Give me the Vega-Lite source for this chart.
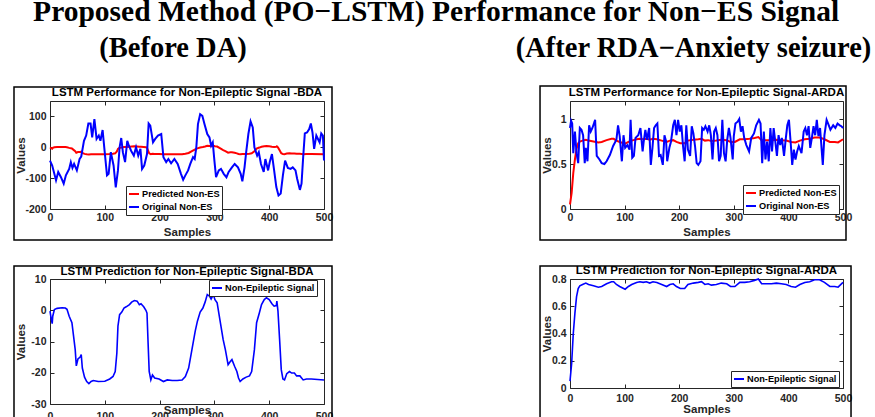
{
  "$schema": "https://vega.github.io/schema/vega-lite/v6.json",
  "background": "white",
  "padding": {"left": 12, "top": -4, "right": 0, "bottom": 0},
  "autosize": {"type": "pad"},
  "title": {"text": "Proposed Method (PO−LSTM) Performance for Non−ES Signal", "font": "Liberation Serif", "fontSize": 29.5, "fontWeight": "bold", "color": "black", "anchor": "middle", "baseline": "alphabetic", "offset": -16, "dx": -6},
  "datasets": {
    "bdaPred": [
      {"s":0,"v":-0.3},{"s":2,"v":-2.5},{"s":4,"v":-4.3},{"s":5,"v":-1.9},{"s":8,"v":0.2},{"s":13,"v":0.6},{"s":22,"v":0.8},{"s":28,"v":0.7},{"s":31,"v":0.3},{"s":35,"v":-1.9},{"s":40,"v":-4},{"s":43,"v":-8.3},{"s":46,"v":-12.6},{"s":48,"v":-17.8},{"s":51,"v":-15.6},{"s":55,"v":-15},{"s":57,"v":-14.2},{"s":59,"v":-18.5},{"s":63,"v":-21.4},{"s":67,"v":-22.8},{"s":71,"v":-23.5},{"s":75,"v":-22.8},{"s":79,"v":-22.5},{"s":88,"v":-22.8},{"s":100,"v":-22.7},{"s":109,"v":-22},{"s":115,"v":-21.2},{"s":119,"v":-19.6},{"s":122,"v":-13.7},{"s":124,"v":-5.1},{"s":127,"v":-1.4},{"s":131,"v":-0.6},{"s":135,"v":0.7},{"s":139,"v":1.1},{"s":145,"v":1.8},{"s":149,"v":2.6},{"s":154,"v":3.1},{"s":159,"v":2.9},{"s":163,"v":1.8},{"s":166,"v":2.1},{"s":171,"v":1.1},{"s":175,"v":0},{"s":177,"v":-0.9},{"s":179,"v":-10.5},{"s":181,"v":-19.6},{"s":184,"v":-22.3},{"s":187,"v":-20.7},{"s":191,"v":-21.7},{"s":199,"v":-22},{"s":207,"v":-22.8},{"s":214,"v":-22.3},{"s":223,"v":-22.5},{"s":232,"v":-22.5},{"s":241,"v":-22.3},{"s":247,"v":-21.2},{"s":253,"v":-18.5},{"s":259,"v":-12.6},{"s":265,"v":-6.7},{"s":269,"v":-3.5},{"s":274,"v":-0.6},{"s":279,"v":0.7},{"s":283,"v":2.6},{"s":287,"v":5},{"s":291,"v":4.5},{"s":294,"v":3.6},{"s":298,"v":5},{"s":301,"v":3.4},{"s":305,"v":2.4},{"s":310,"v":-3},{"s":316,"v":-9.4},{"s":320,"v":-12.6},{"s":325,"v":-17.4},{"s":329,"v":-16.4},{"s":332,"v":-15.8},{"s":337,"v":-18},{"s":341,"v":-19.6},{"s":344,"v":-21.7},{"s":347,"v":-22.8},{"s":352,"v":-22},{"s":358,"v":-21.4},{"s":364,"v":-21},{"s":368,"v":-19.6},{"s":373,"v":-12.6},{"s":377,"v":-4},{"s":382,"v":-0.9},{"s":386,"v":1.8},{"s":391,"v":3.4},{"s":395,"v":4},{"s":400,"v":3.4},{"s":405,"v":2.1},{"s":409,"v":1.3},{"s":413,"v":1.5},{"s":414,"v":2.9},{"s":416,"v":-0.3},{"s":419,"v":-9.4},{"s":422,"v":-19},{"s":425,"v":-22},{"s":428,"v":-22.3},{"s":432,"v":-20.3},{"s":437,"v":-19.6},{"s":441,"v":-20.1},{"s":446,"v":-20.1},{"s":450,"v":-21},{"s":456,"v":-21},{"s":462,"v":-22.3},{"s":468,"v":-22},{"s":477,"v":-22},{"s":500,"v":-22.3}
    ],
    "bdaOrig": [
      {"s":0,"v":-43},{"s":4,"v":-59},{"s":11,"v":-107},{"s":15,"v":-80},{"s":20,"v":-97},{"s":25,"v":-118},{"s":29,"v":-91},{"s":35,"v":-70},{"s":38,"v":-48},{"s":41,"v":-67},{"s":44,"v":-54},{"s":49,"v":-75},{"s":54,"v":-38},{"s":57,"v":-30},{"s":62,"v":21},{"s":66,"v":38},{"s":70,"v":77},{"s":74,"v":77},{"s":77,"v":32},{"s":81,"v":91},{"s":85,"v":27},{"s":89,"v":38},{"s":92,"v":21},{"s":96,"v":56},{"s":99,"v":0},{"s":104,"v":-91},{"s":107,"v":-86},{"s":111,"v":-16},{"s":116,"v":-59},{"s":120,"v":-130},{"s":124,"v":-75},{"s":127,"v":0},{"s":130,"v":30},{"s":133,"v":-16},{"s":137,"v":-48},{"s":141,"v":21},{"s":144,"v":5},{"s":148,"v":-11},{"s":153,"v":-27},{"s":157,"v":0},{"s":161,"v":-27},{"s":165,"v":-5},{"s":168,"v":-70},{"s":172,"v":-59},{"s":177,"v":-22},{"s":180,"v":77},{"s":183,"v":70},{"s":188,"v":16},{"s":192,"v":27},{"s":197,"v":38},{"s":203,"v":43},{"s":207,"v":-32},{"s":212,"v":-48},{"s":216,"v":-38},{"s":221,"v":-52},{"s":227,"v":-38},{"s":233,"v":-54},{"s":239,"v":-86},{"s":243,"v":-105},{"s":247,"v":-91},{"s":252,"v":-75},{"s":256,"v":-54},{"s":261,"v":-32},{"s":264,"v":-38},{"s":267,"v":0},{"s":270,"v":75},{"s":274,"v":107},{"s":278,"v":102},{"s":282,"v":75},{"s":287,"v":43},{"s":291,"v":32},{"s":294,"v":5},{"s":297,"v":16},{"s":300,"v":-43},{"s":303,"v":-97},{"s":308,"v":-75},{"s":312,"v":-70},{"s":317,"v":-86},{"s":322,"v":-97},{"s":326,"v":-80},{"s":332,"v":-65},{"s":337,"v":-54},{"s":343,"v":-65},{"s":348,"v":-86},{"s":351,"v":-110},{"s":355,"v":-65},{"s":358,"v":-16},{"s":362,"v":43},{"s":366,"v":84},{"s":370,"v":64},{"s":373,"v":0},{"s":378,"v":-27},{"s":381,"v":-16},{"s":385,"v":-54},{"s":390,"v":-80},{"s":393,"v":-38},{"s":398,"v":-75},{"s":401,"v":-48},{"s":405,"v":-22},{"s":409,"v":-75},{"s":413,"v":-129},{"s":417,"v":-156},{"s":421,"v":-150},{"s":425,"v":-91},{"s":429,"v":-43},{"s":434,"v":-67},{"s":439,"v":-70},{"s":443,"v":-65},{"s":448,"v":-75},{"s":451,"v":-102},{"s":456,"v":-138},{"s":459,"v":-118},{"s":462,"v":-32},{"s":465,"v":45},{"s":469,"v":48},{"s":473,"v":59},{"s":476,"v":77},{"s":479,"v":48},{"s":482,"v":-5},{"s":486,"v":38},{"s":489,"v":27},{"s":492,"v":16},{"s":495,"v":45},{"s":498,"v":38},{"s":500,"v":-43}
    ],
    "ardaPred": [
      {"s":0,"v":0.05},{"s":3,"v":0.18},{"s":6,"v":0.4},{"s":9,"v":0.55},{"s":12,"v":0.67},{"s":15,"v":0.73},{"s":18,"v":0.75},{"s":23,"v":0.76},{"s":29,"v":0.77},{"s":34,"v":0.76},{"s":43,"v":0.75},{"s":52,"v":0.74},{"s":58,"v":0.745},{"s":67,"v":0.765},{"s":76,"v":0.78},{"s":80,"v":0.78},{"s":85,"v":0.76},{"s":91,"v":0.745},{"s":101,"v":0.725},{"s":107,"v":0.745},{"s":113,"v":0.76},{"s":122,"v":0.775},{"s":128,"v":0.78},{"s":134,"v":0.775},{"s":140,"v":0.78},{"s":146,"v":0.77},{"s":152,"v":0.78},{"s":159,"v":0.775},{"s":168,"v":0.76},{"s":177,"v":0.745},{"s":183,"v":0.76},{"s":189,"v":0.765},{"s":195,"v":0.745},{"s":202,"v":0.73},{"s":210,"v":0.73},{"s":216,"v":0.76},{"s":226,"v":0.77},{"s":235,"v":0.775},{"s":241,"v":0.78},{"s":247,"v":0.76},{"s":253,"v":0.765},{"s":259,"v":0.755},{"s":268,"v":0.76},{"s":277,"v":0.77},{"s":287,"v":0.765},{"s":294,"v":0.745},{"s":302,"v":0.745},{"s":311,"v":0.775},{"s":320,"v":0.775},{"s":329,"v":0.78},{"s":338,"v":0.79},{"s":345,"v":0.8},{"s":351,"v":0.765},{"s":360,"v":0.765},{"s":369,"v":0.765},{"s":378,"v":0.77},{"s":387,"v":0.765},{"s":396,"v":0.76},{"s":405,"v":0.745},{"s":413,"v":0.74},{"s":421,"v":0.76},{"s":430,"v":0.775},{"s":439,"v":0.78},{"s":448,"v":0.795},{"s":457,"v":0.795},{"s":466,"v":0.775},{"s":476,"v":0.745},{"s":485,"v":0.745},{"s":491,"v":0.74},{"s":500,"v":0.775}
    ],
    "ardaOrig": [
      {"s":0,"v":0.9},{"s":2,"v":0.98},{"s":4,"v":0.95},{"s":6,"v":0.62},{"s":9,"v":0.86},{"s":12,"v":0.62},{"s":15,"v":0.51},{"s":18,"v":0.9},{"s":21,"v":0.88},{"s":24,"v":0.82},{"s":27,"v":0.51},{"s":29,"v":0.68},{"s":32,"v":0.53},{"s":35,"v":0.93},{"s":38,"v":0.86},{"s":41,"v":0.9},{"s":45,"v":0.97},{"s":46,"v":0.99},{"s":49,"v":0.59},{"s":54,"v":0.55},{"s":58,"v":0.51},{"s":63,"v":0.5},{"s":67,"v":0.53},{"s":73,"v":0.6},{"s":79,"v":0.7},{"s":85,"v":0.77},{"s":88,"v":0.93},{"s":91,"v":0.81},{"s":95,"v":0.53},{"s":98,"v":0.82},{"s":101,"v":0.68},{"s":105,"v":0.71},{"s":109,"v":0.66},{"s":111,"v":0.99},{"s":114,"v":0.57},{"s":117,"v":0.59},{"s":120,"v":0.79},{"s":125,"v":0.82},{"s":129,"v":0.9},{"s":133,"v":0.64},{"s":135,"v":0.75},{"s":138,"v":0.88},{"s":141,"v":0.77},{"s":145,"v":0.9},{"s":148,"v":0.49},{"s":151,"v":0.68},{"s":154,"v":0.9},{"s":157,"v":0.93},{"s":160,"v":0.95},{"s":163,"v":0.59},{"s":166,"v":0.6},{"s":170,"v":0.49},{"s":173,"v":0.82},{"s":176,"v":0.75},{"s":178,"v":0.53},{"s":182,"v":0.68},{"s":185,"v":0.75},{"s":189,"v":0.93},{"s":192,"v":0.99},{"s":195,"v":0.82},{"s":198,"v":0.99},{"s":201,"v":0.86},{"s":204,"v":0.93},{"s":207,"v":0.7},{"s":210,"v":0.53},{"s":213,"v":0.93},{"s":216,"v":0.66},{"s":220,"v":0.59},{"s":223,"v":0.92},{"s":226,"v":0.84},{"s":229,"v":0.7},{"s":232,"v":0.51},{"s":235,"v":0.49},{"s":239,"v":0.53},{"s":242,"v":0.9},{"s":245,"v":0.88},{"s":248,"v":0.92},{"s":252,"v":0.86},{"s":255,"v":0.93},{"s":258,"v":0.82},{"s":261,"v":0.55},{"s":264,"v":0.86},{"s":267,"v":0.9},{"s":270,"v":0.82},{"s":273,"v":0.53},{"s":276,"v":0.59},{"s":279,"v":0.99},{"s":282,"v":0.62},{"s":285,"v":0.53},{"s":288,"v":0.77},{"s":291,"v":0.9},{"s":294,"v":0.79},{"s":298,"v":0.55},{"s":300,"v":0.81},{"s":303,"v":0.95},{"s":307,"v":0.97},{"s":310,"v":1.0},{"s":313,"v":0.86},{"s":316,"v":0.92},{"s":319,"v":0.79},{"s":323,"v":0.71},{"s":328,"v":0.64},{"s":332,"v":0.79},{"s":337,"v":0.84},{"s":341,"v":0.93},{"s":346,"v":0.99},{"s":349,"v":0.95},{"s":352,"v":0.51},{"s":355,"v":0.86},{"s":358,"v":0.55},{"s":361,"v":0.75},{"s":364,"v":0.53},{"s":367,"v":0.9},{"s":370,"v":0.64},{"s":373,"v":0.9},{"s":376,"v":0.75},{"s":379,"v":0.59},{"s":382,"v":0.82},{"s":385,"v":0.71},{"s":388,"v":0.79},{"s":392,"v":0.59},{"s":395,"v":0.77},{"s":398,"v":0.93},{"s":401,"v":0.99},{"s":404,"v":0.75},{"s":407,"v":0.49},{"s":410,"v":0.66},{"s":413,"v":0.55},{"s":416,"v":0.64},{"s":419,"v":0.7},{"s":424,"v":0.62},{"s":428,"v":0.86},{"s":431,"v":0.9},{"s":434,"v":0.82},{"s":437,"v":0.92},{"s":440,"v":0.68},{"s":443,"v":0.79},{"s":446,"v":0.92},{"s":449,"v":0.82},{"s":452,"v":0.99},{"s":455,"v":0.81},{"s":458,"v":0.9},{"s":463,"v":0.49},{"s":466,"v":0.82},{"s":470,"v":0.99},{"s":474,"v":0.93},{"s":477,"v":0.88},{"s":482,"v":0.93},{"s":486,"v":0.9},{"s":490,"v":0.95},{"s":494,"v":0.93},{"s":497,"v":0.92},{"s":500,"v":0.9}
    ]
  },
  "hconcat": [
    {
      "title": {"text": "(Before DA)", "font": "Liberation Serif", "fontSize": 28.5, "fontWeight": "bold", "color": "black", "anchor": "middle", "baseline": "alphabetic", "offset": -0.25},
      "spacing": 22,
      "resolve": {"scale": {"x": "independent", "y": "independent", "color": "independent"}, "legend": {"color": "independent"}},
      "vconcat": [
        {
          "width": 274, "height": 108,
          "title": {"text": "LSTM Performance for Non-Epileptic Signal -BDA", "anchor": "middle", "frame": "group", "baseline": "alphabetic", "offset": -21.25},
          "resolve": {"axis": {"x": "independent", "y": "independent"}},
          "layer": [
            {
              "data": {"values": [{}]},
              "mark": {"type": "rect", "filled": false, "stroke": "black", "strokeWidth": 1.5},
              "encoding": {
                "x": {"datum": -65.7, "type": "quantitative", "scale": {"domain": [0, 500], "nice": false, "zero": false}, "axis": {"orient": "top", "values": [0,100,200,300,400,500], "labels": false, "title": null}},
                "x2": {"datum": 514.6},
                "y": {"datum": 195.4, "type": "quantitative", "scale": {"domain": [-200, 150], "nice": false, "zero": false}, "axis": {"orient": "right", "values": [-200,-100,0,100], "labels": false, "title": null}},
                "y2": {"datum": -300.5}
              }
            },
            {
              "data": {"name": "bdaPred"},
              "mark": {"type": "line", "strokeWidth": 2},
              "encoding": {
                "x": {"field": "s", "type": "quantitative", "scale": {"domain": [0, 500], "nice": false, "zero": false}, "axis": {"orient": "bottom", "values": [0,100,200,300,400,500], "title": "Samples", "titleY": 17, "titleBaseline": "top", "labelPadding": 7}},
                "y": {"field": "v", "type": "quantitative", "scale": {"domain": [-200, 150], "nice": false, "zero": false}, "axis": {"orient": "left", "values": [-200,-100,0,100], "title": "Values", "titleX": -24, "labelPadding": 8}},
                "color": {"datum": "Predicted Non-ES", "scale": {"domain": ["Predicted Non-ES", "Original Non-ES"], "range": ["#ff0000", "#0000ff"]}, "legend": {"title": null, "orient": "none", "legendX": 76, "legendY": 85}}
              }
            },
            {
              "data": {"name": "bdaOrig"},
              "mark": {"type": "line", "strokeWidth": 2},
              "encoding": {
                "x": {"field": "s", "type": "quantitative", "scale": {"domain": [0, 500], "nice": false, "zero": false}, "axis": null},
                "y": {"field": "v", "type": "quantitative", "scale": {"domain": [-200, 150], "nice": false, "zero": false}, "axis": null},
                "color": {"datum": "Original Non-ES"}
              }
            }
          ]
        },
        {
          "width": 274, "height": 125,
          "title": {"text": "LSTM Prediction for Non-Epileptic Signal-BDA", "anchor": "middle", "frame": "group", "baseline": "alphabetic", "offset": -20.95},
          "resolve": {"axis": {"x": "independent", "y": "independent"}},
          "layer": [
            {
              "data": {"values": [{}]},
              "mark": {"type": "rect", "filled": false, "stroke": "black", "strokeWidth": 1.5},
              "encoding": {
                "x": {"datum": -65.7, "type": "quantitative", "scale": {"domain": [0, 500], "nice": false, "zero": false}, "axis": {"orient": "top", "values": [0,100,200,300,400,500], "labels": false, "title": null}},
                "x2": {"datum": 514.6},
                "y": {"datum": 14.16, "type": "quantitative", "scale": {"domain": [-30, 10], "nice": false, "zero": false}, "axis": {"orient": "right", "values": [-30,-20,-10,0,10], "labels": false, "title": null}},
                "y2": {"datum": -39.9}
              }
            },
            {
              "data": {"name": "bdaPred"},
              "mark": {"type": "line", "strokeWidth": 1.6},
              "encoding": {
                "x": {"field": "s", "type": "quantitative", "scale": {"domain": [0, 500], "nice": false, "zero": false}, "axis": {"orient": "bottom", "values": [0,100,200,300,400,500], "title": "Samples", "titleY": 0, "titleBaseline": "top", "labelPadding": 11}},
                "y": {"field": "v", "type": "quantitative", "scale": {"domain": [-30, 10], "nice": false, "zero": false}, "axis": {"orient": "left", "values": [-30,-20,-10,0,10], "title": "Values", "titleX": -24, "labelPadding": 8}},
                "color": {"datum": "Non-Epileptic Signal", "scale": {"domain": ["Non-Epileptic Signal"], "range": ["#0000ff"]}, "legend": {"title": null, "orient": "none", "legendX": 159, "legendY": 1}}
              }
            }
          ]
        }
      ]
    },
    {
      "title": {"text": "(After RDA−Anxiety seizure)", "font": "Liberation Serif", "fontSize": 28.5, "fontWeight": "bold", "color": "black", "anchor": "middle", "baseline": "alphabetic", "offset": -1.25, "dx": -2},
      "spacing": 22,
      "resolve": {"scale": {"x": "independent", "y": "independent", "color": "independent"}, "legend": {"color": "independent"}},
      "vconcat": [
        {
          "width": 273, "height": 108,
          "title": {"text": "LSTM Performance for Non-Epileptic Signal-ARDA", "anchor": "middle", "frame": "group", "baseline": "alphabetic", "offset": -22.25},
          "resolve": {"axis": {"x": "independent", "y": "independent"}},
          "layer": [
            {
              "data": {"values": [{}]},
              "mark": {"type": "rect", "filled": false, "stroke": "black", "strokeWidth": 1.5},
              "encoding": {
                "x": {"datum": -54.9, "type": "quantitative", "scale": {"domain": [0, 500], "nice": false, "zero": false}, "axis": {"orient": "top", "values": [0,100,200,300,400,500], "labels": false, "title": null}},
                "x2": {"datum": 505.5},
                "y": {"datum": 1.3667, "type": "quantitative", "scale": {"domain": [0, 1.2], "nice": false, "zero": false}, "axis": {"orient": "right", "values": [0,0.5,1], "labels": false, "title": null}},
                "y2": {"datum": -0.3444}
              }
            },
            {
              "data": {"name": "ardaPred"},
              "mark": {"type": "line", "strokeWidth": 2},
              "encoding": {
                "x": {"field": "s", "type": "quantitative", "scale": {"domain": [0, 500], "nice": false, "zero": false}, "axis": {"orient": "bottom", "values": [0,100,200,300,400,500], "title": "Samples", "titleY": 17, "titleBaseline": "top", "labelPadding": 7}},
                "y": {"field": "v", "type": "quantitative", "scale": {"domain": [0, 1.2], "nice": false, "zero": false}, "axis": {"orient": "left", "values": [0,0.5,1], "format": ".1~f", "title": "Values", "titleX": -18, "labelPadding": 8}},
                "color": {"datum": "Predicted Non-ES", "scale": {"domain": ["Predicted Non-ES", "Original Non-ES"], "range": ["#ff0000", "#0000ff"]}, "legend": {"title": null, "orient": "none", "legendX": 173, "legendY": 84}}
              }
            },
            {
              "data": {"name": "ardaOrig"},
              "mark": {"type": "line", "strokeWidth": 2},
              "encoding": {
                "x": {"field": "s", "type": "quantitative", "scale": {"domain": [0, 500], "nice": false, "zero": false}, "axis": null},
                "y": {"field": "v", "type": "quantitative", "scale": {"domain": [0, 1.2], "nice": false, "zero": false}, "axis": null},
                "color": {"datum": "Original Non-ES"}
              }
            }
          ]
        },
        {
          "width": 273, "height": 109,
          "title": {"text": "LSTM Prediction for Non-Epileptic Signal-ARDA", "anchor": "middle", "frame": "group", "baseline": "alphabetic", "offset": -20.25},
          "resolve": {"axis": {"x": "independent", "y": "independent"}},
          "layer": [
            {
              "data": {"values": [{}]},
              "mark": {"type": "rect", "filled": false, "stroke": "black", "strokeWidth": 1.5},
              "encoding": {
                "x": {"datum": -54.9, "type": "quantitative", "scale": {"domain": [0, 500], "nice": false, "zero": false}, "axis": {"orient": "top", "values": [0,100,200,300,400,500], "labels": false, "title": null}},
                "x2": {"datum": 514.7},
                "y": {"datum": 0.8954, "type": "quantitative", "scale": {"domain": [0, 0.8], "nice": false, "zero": false}, "axis": {"orient": "right", "values": [0,0.2,0.4,0.6,0.8], "labels": false, "title": null}},
                "y2": {"datum": -0.2716}
              }
            },
            {
              "data": {"name": "ardaPred"},
              "mark": {"type": "line", "strokeWidth": 1.6},
              "encoding": {
                "x": {"field": "s", "type": "quantitative", "scale": {"domain": [0, 500], "nice": false, "zero": false}, "axis": {"orient": "bottom", "values": [0,100,200,300,400,500], "title": "Samples", "titleY": 15.5, "titleBaseline": "top", "labelPadding": 9}},
                "y": {"field": "v", "type": "quantitative", "scale": {"domain": [0, 0.8], "nice": false, "zero": false}, "axis": {"orient": "left", "values": [0,0.2,0.4,0.6,0.8], "format": ".1~f", "title": "Values", "titleX": -18, "labelPadding": 8}},
                "color": {"datum": "Non-Epileptic Signal", "scale": {"domain": ["Non-Epileptic Signal"], "range": ["#0000ff"]}, "legend": {"title": null, "orient": "none", "legendX": 161, "legendY": 92}}
              }
            }
          ]
        }
      ]
    }
  ],
  "spacing": 181,
  "resolve": {"scale": {"x": "independent", "y": "independent", "color": "independent"}, "legend": {"color": "independent"}},
  "config": {
    "locale": {"number": {"decimal": ".", "thousands": ",", "grouping": [3], "currency": ["$", ""], "minus": "-"}},
    "view": {"stroke": "#262626", "strokeWidth": 1},
    "axis": {"grid": false, "domain": false, "tickColor": "#262626", "tickSize": -4, "labelFont": "Liberation Sans", "labelFontWeight": "bold", "labelFontSize": 10.5, "labelColor": "#262626", "labelFlush": false, "labelOverlap": false, "titleFont": "Liberation Sans", "titleFontWeight": "bold", "titleFontSize": 11.5, "titleColor": "#262626"},
    "legend": {"labelFont": "Liberation Sans", "labelFontWeight": "bold", "labelFontSize": 9.2, "labelColor": "black", "strokeColor": "#262626", "fillColor": "white", "padding": 2, "symbolType": "stroke", "symbolStrokeWidth": 2, "symbolSize": 100, "rowPadding": 1, "labelOffset": 2},
    "title": {"font": "Liberation Sans", "fontWeight": "bold", "fontSize": 11.5, "color": "black"}
  }
}
